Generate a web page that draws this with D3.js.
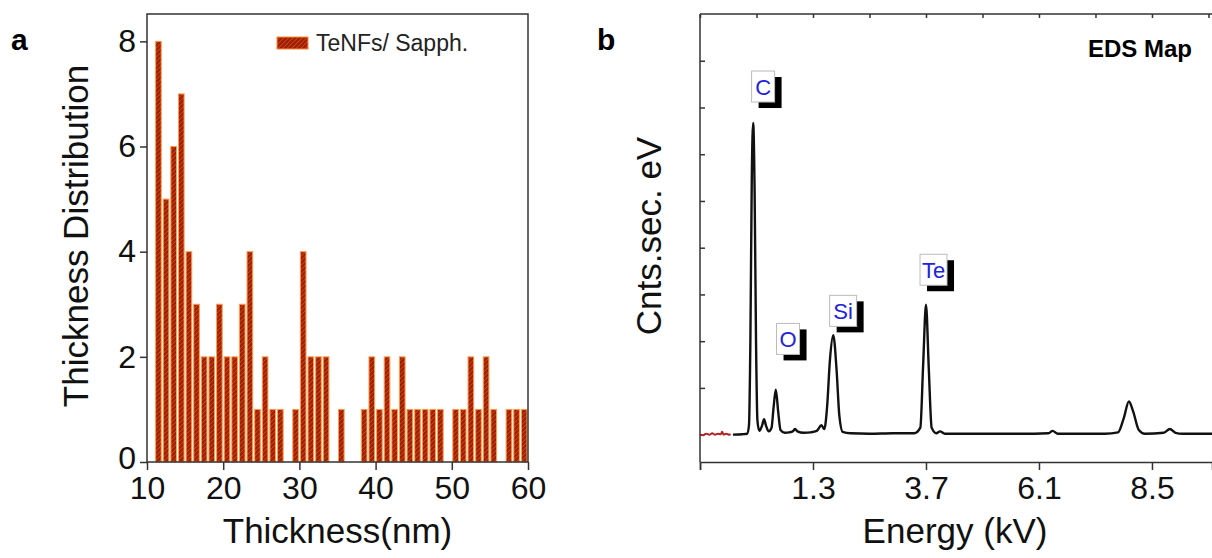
<!DOCTYPE html>
<html>
<head>
<meta charset="utf-8">
<script src="https://cdn.jsdelivr.net/npm/d3@7"></script>
<style>
  body { margin: 0; background: #fff; }
  svg { display: block; font-family: "Liberation Sans", Arial, sans-serif; }
</style>
</head>
<body>
<div id="chart"></div>
<script>
// ---- panel a: thickness histogram ----
const thicknessBins = [11.5,12.5,13.5,14.5,15.5,16.5,17.5,18.5,19.5,20.5,21.5,22.5,23.5,24.5,25.5,26.5,27.5,28.5,29.5,30.5,
  31.5,32.5,33.5,34.5,35.5,36.5,37.5,38.5,39.5,40.5,41.5,42.5,43.5,44.5,45.5,46.5,47.5,48.5,49.5,50.5,
  51.5,52.5,53.5,54.5,55.5,56.5,57.5,58.5,59.5];
const thicknessCounts = [8,5,6,7,4,3,2,2,3,2,2,3,4,1,2,1,1,0,1,4,
  2,2,2,0,1,0,0,1,2,1,2,1,2,1,1,1,1,1,0,1,
  1,2,1,2,1,0,1,1,1];
const thicknessTicks = [10,20,30,40,50,60];
const countTicks = [0,2,4,6,8];

// ---- panel b: EDS spectrum ----
const noiseEnergy = [-1.10,-1.03,-0.97,-0.90,-0.84,-0.78,-0.72,-0.66,-0.63,-0.60,-0.54,-0.49,-0.45];
const noiseCounts = [0.00,-0.01,0.02,0.00,0.03,0.00,0.02,0.01,0.06,0.00,0.02,0.00,0.01];
const specEnergy = [-0.40,-0.20,-0.10,-0.06,-0.03,0.00,0.03,0.06,0.09,0.12,0.16,0.22,0.26,0.30,0.36,0.42,0.46,0.51,0.56,0.61,
  0.70,0.80,0.88,0.92,0.97,1.10,1.25,1.38,1.48,1.54,1.60,1.66,1.73,1.80,1.86,1.93,2.10,2.50,3.00,3.45,
  3.58,3.64,3.70,3.76,3.82,3.92,4.00,4.10,5.00,6.00,6.30,6.39,6.50,7.50,7.78,7.90,8.01,8.10,8.22,8.35,
  8.75,8.88,9.00,9.15,9.78];
const specCounts = [0.00,0.01,0.02,0.20,2.00,5.50,6.67,5.20,2.00,0.30,0.08,0.20,0.33,0.20,0.07,0.15,0.55,0.96,0.50,0.10,
  0.04,0.05,0.08,0.12,0.07,0.04,0.05,0.08,0.20,0.12,0.60,1.60,2.13,1.40,0.40,0.06,0.03,0.02,0.03,0.03,
  0.15,1.50,2.78,1.40,0.15,0.03,0.07,0.02,0.02,0.02,0.03,0.08,0.02,0.02,0.05,0.35,0.71,0.50,0.10,0.02,
  0.04,0.12,0.04,0.02,0.02];
const energyMajor = [-1.1,1.3,3.7,6.1,8.5];
const energyMinor = [0.1,2.5,4.9,7.3,9.7];
const energyLabels = [1.3,3.7,6.1,8.5];
const cpsTicks = [1,2,3,4,5,6,7,8];
// element tags: centre energy and top of the tag (in counts)
const peakNames = ["C","O","Si","Te"];
const peakTagE = [0.24,0.77,1.94,3.86];
const peakTagC = [7.78,2.38,2.98,3.86];

const W = 1212, H = 558;
const font = '"Liberation Sans", Arial, sans-serif';

const svg = d3.select("#chart").append("svg")
    .attr("width", W)
    .attr("height", H);

// hatch pattern for the bars
const defs = svg.append("defs");
const pat = defs.append("pattern")
    .attr("id", "hatch")
    .attr("patternUnits", "userSpaceOnUse")
    .attr("width", 3.2)
    .attr("height", 3.2)
    .attr("patternTransform", "rotate(45)");
pat.append("rect").attr("width", 3.2).attr("height", 3.2).attr("fill", "#9e2004");
pat.append("line")
    .attr("x1", 0).attr("y1", 0).attr("x2", 0).attr("y2", 3.2)
    .attr("stroke", "#e4521c").attr("stroke-width", 1.2);

// ========== panel a ==========
const xA = d3.scaleLinear().domain([10, 60]).range([147, 528]);
const yA = d3.scaleLinear().domain([0, 8.52]).range([462, 14]);
const gA = svg.append("g");

gA.selectAll("rect.bar")
    .data(thicknessBins.map((b, i) => ({ b, c: thicknessCounts[i] })).filter(d => d.c > 0))
    .enter()
    .append("rect")
    .attr("class", "bar")
    .attr("x", d => xA(d.b - 0.37))
    .attr("width", d => xA(d.b + 0.37) - xA(d.b - 0.37))
    .attr("y", d => yA(d.c))
    .attr("height", d => yA(0) - yA(d.c))
    .attr("fill", "url(#hatch)")
    .attr("stroke", "#ff9c4a")
    .attr("stroke-width", 1);

// frame
gA.append("rect")
    .attr("x", xA(10)).attr("y", yA(8.52))
    .attr("width", xA(60) - xA(10)).attr("height", yA(0) - yA(8.52))
    .attr("fill", "none").attr("stroke", "#333").attr("stroke-width", 1.5);

// bottom axis
const axA = gA.append("g").attr("transform", `translate(0,${yA(0)})`);
axA.call(d3.axisBottom(xA).tickValues(d3.range(10, 61, 5)).tickSize(4).tickFormat(""))
    .call(g => g.select(".domain").remove());
axA.call(d3.axisBottom(xA).tickValues(thicknessTicks).tickSize(8).tickPadding(6).tickFormat(d3.format("d")))
    .call(g => g.selectAll(".domain").remove());
axA.selectAll("line").attr("stroke", "#333").attr("stroke-width", 1.5);
axA.selectAll("text").attr("font-family", font).attr("font-size", 32).attr("fill", "#111");

// left axis
const ayA = gA.append("g").attr("transform", `translate(${xA(10)},0)`);
ayA.call(d3.axisLeft(yA).tickValues(d3.range(0, 9, 1)).tickSize(4).tickFormat(""))
    .call(g => g.select(".domain").remove());
ayA.call(d3.axisLeft(yA).tickValues(countTicks).tickSize(7).tickPadding(4).tickFormat(d3.format("d")))
    .call(g => g.selectAll(".domain").remove());
ayA.selectAll("line").attr("stroke", "#333").attr("stroke-width", 1.5);
ayA.selectAll("text").attr("font-family", font).attr("font-size", 32).attr("fill", "#111");
// lift the "0" a little so it clears the "10" below it
ayA.selectAll(".tick text").filter(d => d === 0).attr("dy", "0.2em");

// titles
svg.append("text")
    .attr("x", (xA(10) + xA(60)) / 2).attr("y", 543)
    .attr("text-anchor", "middle")
    .attr("font-size", 35).attr("fill", "#111")
    .text("Thickness(nm)");
svg.append("text")
    .attr("transform", `translate(88,236) rotate(-90)`)
    .attr("text-anchor", "middle")
    .attr("font-size", 35).attr("fill", "#111")
    .text("Thickness Distribution");

// legend
svg.append("rect")
    .attr("x", 277).attr("y", 37).attr("width", 31).attr("height", 12)
    .attr("fill", "url(#hatch)").attr("stroke", "#ff8a3a").attr("stroke-width", 1);
svg.append("text")
    .attr("x", 316).attr("y", 51)
    .attr("font-size", 23).attr("fill", "#222")
    .text("TeNFs/ Sapph.");

svg.append("text")
    .attr("x", 11).attr("y", 50)
    .attr("font-size", 30).attr("font-weight", "bold")
    .text("a");

// ========== panel b ==========
const xB = d3.scaleLinear().domain([-1.1, 9.775]).range([700, 1212]);
const yB = d3.scaleLinear().domain([-0.585, 9.0]).range([462, 14]);
const gB = svg.append("g");

// spectrum
const line = d3.line()
    .x(d => xB(d[0]))
    .y(d => yB(d[1]))
    .curve(d3.curveMonotoneX);

gB.append("path")
    .datum(noiseEnergy.map((e, i) => [e, noiseCounts[i]]))
    .attr("d", line)
    .attr("fill", "none")
    .attr("stroke", "#b22222")
    .attr("stroke-width", 2);

gB.append("path")
    .datum(specEnergy.map((e, i) => [e, specCounts[i]]))
    .attr("d", line)
    .attr("fill", "none")
    .attr("stroke", "#111")
    .attr("stroke-width", 2.4)
    .attr("stroke-linejoin", "round");

// axes lines
gB.append("line").attr("x1", xB(-1.1)).attr("x2", xB(-1.1)).attr("y1", yB(9)).attr("y2", yB(-0.585))
    .attr("stroke", "#333").attr("stroke-width", 1.5);
gB.append("line").attr("x1", xB(-1.1)).attr("x2", W).attr("y1", yB(9)).attr("y2", yB(9))
    .attr("stroke", "#333").attr("stroke-width", 1.5);

const axB = gB.append("g").attr("transform", `translate(0,${yB(-0.585)})`);
axB.call(d3.axisBottom(xB).tickValues(energyMinor).tickSize(5).tickFormat(""));
axB.call(d3.axisBottom(xB).tickValues(energyMajor).tickSize(8).tickPadding(6)
    .tickFormat(d => energyLabels.includes(d) ? d3.format(".1f")(d) : ""));
axB.selectAll(".domain").attr("stroke", "#333").attr("stroke-width", 1.5);
axB.selectAll("line").attr("stroke", "#333").attr("stroke-width", 1.5);
axB.selectAll("text").attr("font-family", font).attr("font-size", 32).attr("fill", "#111");

// top ticks (inward)
const topB = gB.append("g").attr("transform", `translate(0,${yB(9)})`);
topB.call(d3.axisTop(xB).tickValues(energyMajor.concat(energyMinor)).tickSize(-4).tickFormat(""))
    .call(g => g.select(".domain").remove());
topB.selectAll("line").attr("stroke", "#333").attr("stroke-width", 1.5);

// left ticks (inward)
const ayB = gB.append("g").attr("transform", `translate(${xB(-1.1)},0)`);
ayB.call(d3.axisLeft(yB).tickValues(cpsTicks).tickSize(-5).tickFormat(""))
    .call(g => g.select(".domain").remove());
ayB.selectAll("line").attr("stroke", "#333").attr("stroke-width", 1.5);

// peak tags
const tags = gB.selectAll("g.tag")
    .data(peakNames.map((n, i) => ({ n, e: peakTagE[i], c: peakTagC[i] })))
    .enter()
    .append("g")
    .attr("class", "tag")
    .attr("transform", d => `translate(${xB(d.e)},${yB(d.c)})`);
tags.each(function(d) {
    const g = d3.select(this);
    const w = d.n.length > 1 ? 27 : 23;
    const h = 31;
    g.append("rect")
        .attr("x", -w / 2 + 7).attr("y", 6).attr("width", w).attr("height", h)
        .attr("fill", "#000");
    g.append("rect")
        .attr("x", -w / 2).attr("y", 0).attr("width", w).attr("height", h)
        .attr("fill", "#fff").attr("stroke", "#bbb").attr("stroke-width", 1);
    g.append("text")
        .attr("x", 0).attr("y", h / 2 + 8)
        .attr("text-anchor", "middle")
        .attr("font-size", 22).attr("fill", "#2222dd")
        .text(d.n);
});

svg.append("text")
    .attr("x", 1192).attr("y", 57)
    .attr("text-anchor", "end")
    .attr("font-size", 24).attr("font-weight", "bold")
    .text("EDS Map");

svg.append("text")
    .attr("x", (xB(-1.1) + W) / 2 - 1).attr("y", 543)
    .attr("text-anchor", "middle")
    .attr("font-size", 35).attr("fill", "#111")
    .text("Energy (kV)");
svg.append("text")
    .attr("transform", `translate(661,236) rotate(-90)`)
    .attr("text-anchor", "middle")
    .attr("font-size", 35).attr("fill", "#111")
    .text("Cnts.sec. eV");

svg.append("text")
    .attr("x", 597).attr("y", 50)
    .attr("font-size", 30).attr("font-weight", "bold")
    .text("b");
</script>
</body>
</html>
